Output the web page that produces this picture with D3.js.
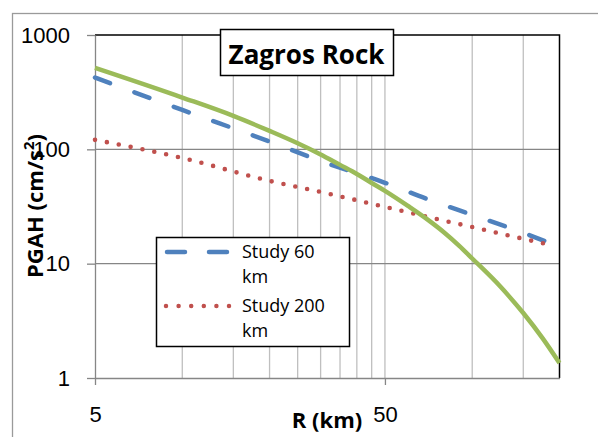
<!DOCTYPE html>
<html>
<head>
<meta charset="utf-8">
<script src="https://cdn.jsdelivr.net/npm/d3@7"></script>
<style>
  body { margin: 0; background: #fff; }
  svg { display: block; font-family: "Open Sans", "Liberation Sans", sans-serif; }
  .axis path, .axis line { stroke: #868686; stroke-width: 1.3; }
  .axis text { font-size: 22px; fill: #000; }
</style>
</head>
<body>
<svg id="chart" width="598" height="437"></svg>
<script>
// distances R (km) and PGAH values (cm/s2)
const rockR = [5, 10, 15, 20, 25, 30, 35, 40, 45, 50, 60, 70, 80, 90, 100, 125, 150, 175, 200];
const rockPGA = [516, 284, 196, 144.9, 113, 90.2, 73.1, 60.9, 50.8, 43.3, 32, 24.4, 18.75, 14.4, 11.1, 6.31, 3.7, 2.22, 1.35];

const studyR = [5, 10, 20, 30, 50, 70, 100, 150, 185];
const study60 = [424, 221, 117, 79, 51, 36.7, 26.7, 18.6, 15.2];
const study200 = [121, 84, 53, 42.4, 31.4, 25.7, 20.9, 16.5, 14.6];

const yTicks = [1, 10, 100, 1000];
const xTicks = [5, 50];
const xGrid = [10, 15, 20, 25, 30, 35, 40, 45, 50, 100, 150];
const legendItems = ["Study 60", "Study 200"];

const svg = d3.select("#chart"),
  margin = {top: 35, right: 38.5, bottom: 59, left: 95},
  width = +svg.attr("width") - margin.left - margin.right,
  height = +svg.attr("height") - margin.top - margin.bottom;

// outer chart border
svg.append("rect")
    .attr("x", 12.5).attr("y", 13.5)
    .attr("width", 620).attr("height", 460)
    .attr("fill", "none")
    .attr("stroke", "#9a9a9a")
    .attr("stroke-width", 1.3);

const g = svg.append("g")
    .attr("transform", "translate(" + margin.left + "," + margin.top + ")");

const x = d3.scaleLog().domain([5, 200]).range([0, width]);
const y = d3.scaleLog().domain([1, 1000]).range([height, 0]);

// gridlines
g.selectAll(".vgrid").data(xGrid).enter().append("line")
    .attr("x1", d => x(d)).attr("x2", d => x(d))
    .attr("y1", 0).attr("y2", height)
    .attr("stroke", "#bfbfbf").attr("stroke-width", 1.3);

g.selectAll(".hgrid").data([10, 100]).enter().append("line")
    .attr("x1", 0).attr("x2", width)
    .attr("y1", d => y(d)).attr("y2", d => y(d))
    .attr("stroke", "#868686").attr("stroke-width", 1.3);

// plot border (top / right)
g.append("path")
    .attr("d", "M0," + y(1000) + "H" + width + "V" + height)
    .attr("fill", "none")
    .attr("stroke", "#000").attr("stroke-width", 1.5);

g.append("g")
    .attr("class", "axis")
    .call(d3.axisLeft(y).tickValues(yTicks).tickFormat(d3.format("d"))
      .tickSize(8).tickPadding(17).tickSizeOuter(0));

g.append("g")
    .attr("class", "axis")
    .attr("transform", "translate(0," + height + ")")
    .call(d3.axisBottom(x).tickValues(xTicks).tickFormat(d3.format("d"))
      .tickSize(7).tickPadding(21).tickSizeOuter(0));

// series
const line = d3.line()
    .x(d => x(d[0]))
    .y(d => y(d[1]))
    .curve(d3.curveMonotoneX);

g.append("path")
    .datum(d3.zip(studyR, study60))
    .attr("d", line)
    .attr("fill", "none")
    .attr("stroke", "#4f81bd").attr("stroke-width", 4.5)
    .attr("stroke-linecap", "round")
    .attr("stroke-dasharray", "16,26");

g.append("path")
    .datum(d3.zip(studyR, study200))
    .attr("d", line)
    .attr("fill", "none")
    .attr("stroke", "#c0504d").attr("stroke-width", 4.6)
    .attr("stroke-linecap", "round")
    .attr("stroke-dasharray", "0,12.1");

g.append("path")
    .datum(d3.zip(rockR, rockPGA))
    .attr("d", line)
    .attr("fill", "none")
    .attr("stroke", "#9bbb59").attr("stroke-width", 4.5);

// legend
const legend = svg.append("g").attr("transform", "translate(156,237)");
legend.append("rect")
    .attr("x", 0.5).attr("y", 0.5)
    .attr("width", 193).attr("height", 109)
    .attr("fill", "#fff")
    .attr("stroke", "#000").attr("stroke-width", 1.5);

const styles = [
  {color: "#4f81bd", dash: "18,24", x1: 11, x2: 74},
  {color: "#c0504d", dash: "0,12.6", x1: 10, x2: 73.5}
];
legendItems.forEach((name, i) => {
  const yy = 15 + i * 54;
  legend.append("line")
      .attr("x1", styles[i].x1).attr("x2", styles[i].x2)
      .attr("y1", yy).attr("y2", yy)
      .attr("stroke", styles[i].color).attr("stroke-width", 4.5)
      .attr("stroke-linecap", "round")
      .attr("stroke-dasharray", styles[i].dash);
  const t = legend.append("text")
      .attr("x", 86).attr("y", yy + 6)
      .attr("font-size", 18);
  t.append("tspan").text(name);
  t.append("tspan").attr("x", 86).attr("dy", 25).text("km");
});

// title box
const title = svg.append("g");
title.append("rect")
    .attr("x", 220.5).attr("y", 29.5)
    .attr("width", 173).attr("height", 46)
    .attr("fill", "#fff")
    .attr("stroke", "#000").attr("stroke-width", 1.5);
title.append("text")
    .attr("x", 306.5).attr("y", 64)
    .attr("text-anchor", "middle")
    .attr("font-size", 26).attr("font-weight", "bold")
    .text("Zagros Rock");

// axis titles
svg.append("text")
    .attr("x", 327).attr("y", 428)
    .attr("text-anchor", "middle")
    .attr("font-size", 22).attr("font-weight", "bold")
    .text("R (km)");

const yt = svg.append("text")
    .attr("transform", "translate(43,206) rotate(-90)")
    .attr("text-anchor", "middle")
    .attr("font-size", 22).attr("font-weight", "bold");
yt.append("tspan").text("PGAH (cm/s");
yt.append("tspan").attr("font-size", 15).attr("dy", -9).text("2");
yt.append("tspan").attr("dy", 9).text(")");
</script>
</body>
</html>
